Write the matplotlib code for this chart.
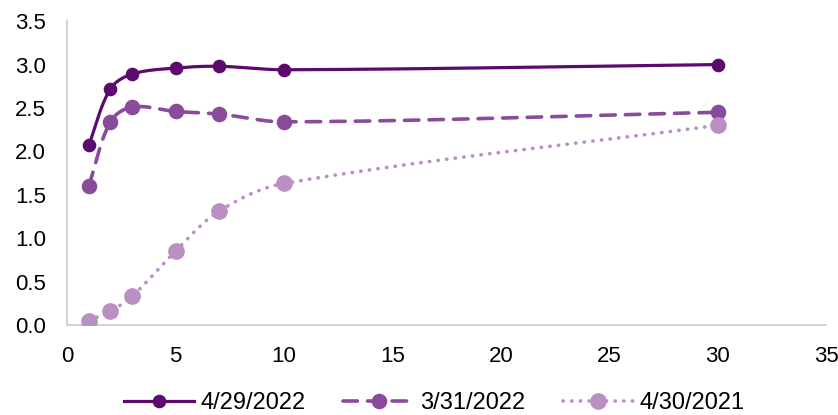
import matplotlib.pyplot as plt
import numpy as np

plt.rcParams['font.family'] = ['Liberation Sans', 'DejaVu Sans']

tenor = [1, 2, 3, 5, 7, 10, 30]
y_apr29_2022 = [2.07, 2.72, 2.89, 2.96, 2.98, 2.94, 3.00]
y_mar31_2022 = [1.60, 2.34, 2.51, 2.46, 2.43, 2.34, 2.45]
y_apr30_2021 = [0.05, 0.16, 0.33, 0.85, 1.31, 1.63, 2.30]

labels = ["4/29/2022", "3/31/2022", "4/30/2021"]
colors = ["#5c0a6e", "#8a4b9b", "#b98fc4"]

# y is stretched so the curve is smoothed in roughly screen proportions
Y_ASPECT = 4.0


def smooth(x, y, n=40):
    """Cubic Bezier through every point, tangents from neighbours."""
    p = np.column_stack([np.asarray(x, float), np.asarray(y, float) * Y_ASPECT])
    k = len(p)
    dirs = []
    for i in range(k):
        a = p[max(i - 1, 0)]
        b = p[min(i + 1, k - 1)]
        d = b - a
        dirs.append(d / np.hypot(*d))
    t = np.linspace(0, 1, n)[:, None]
    out = []
    for i in range(k - 1):
        p0, p3 = p[i], p[i + 1]
        seg = np.hypot(*(p3 - p0)) / 3
        c1 = p0 + dirs[i] * seg
        c2 = p3 - dirs[i + 1] * seg
        b = (1 - t) ** 3 * p0 + 3 * (1 - t) ** 2 * t * c1 + 3 * (1 - t) * t ** 2 * c2 + t ** 3 * p3
        out.append(b)
    out = np.vstack(out)
    return out[:, 0], out[:, 1] / Y_ASPECT


fig = plt.figure(figsize=(8.38, 4.15), dpi=100)
ax = fig.add_axes([0.08, 0.217, 0.906, 0.732])

styles = [
    dict(ls="-", lw=2.3, ms=8.8),
    dict(ls=(0, (4, 2.8)), lw=2.6, ms=10.2),
    dict(ls=(0, (0.1, 2.3)), lw=2.6, ms=11),
]

handles = []
for yv, lab, col, st in zip([y_apr29_2022, y_mar31_2022, y_apr30_2021], labels, colors, styles):
    sx, sy = smooth(tenor, yv)
    ax.plot(sx, sy, color=col, ls=st["ls"], lw=st["lw"], solid_capstyle="round",
            dash_capstyle="round", zorder=2)
    ax.plot(tenor, yv, "o", color=col, ms=st["ms"], zorder=3)
    h, = ax.plot([], [], color=col, ls=st["ls"], lw=st["lw"], marker="o", ms=st["ms"],
                 dash_capstyle="round", label=lab)
    handles.append(h)

ax.set_xlim(0, 35)
ax.set_ylim(0, 3.5)
ax.set_xticks(np.arange(0, 36, 5))
ax.set_yticks(np.arange(0, 3.51, 0.5))
ax.yaxis.set_major_formatter(plt.FormatStrFormatter("%.1f"))
ax.tick_params(length=0, labelsize=16)
ax.tick_params(axis="x", pad=15)
ax.tick_params(axis="y", pad=15)
for s in ["top", "right"]:
    ax.spines[s].set_visible(False)
for s in ["left", "bottom"]:
    ax.spines[s].set_color("#cfcfcf")
    ax.spines[s].set_linewidth(1.3)

fig.legend(handles=handles, loc="center", bbox_to_anchor=(0.518, 0.028), ncol=3,
           frameon=False, fontsize=17, handlelength=3.0, columnspacing=1.6,
           handletextpad=0.25, borderpad=0, borderaxespad=0)

fig.savefig("out.png", dpi=100)
